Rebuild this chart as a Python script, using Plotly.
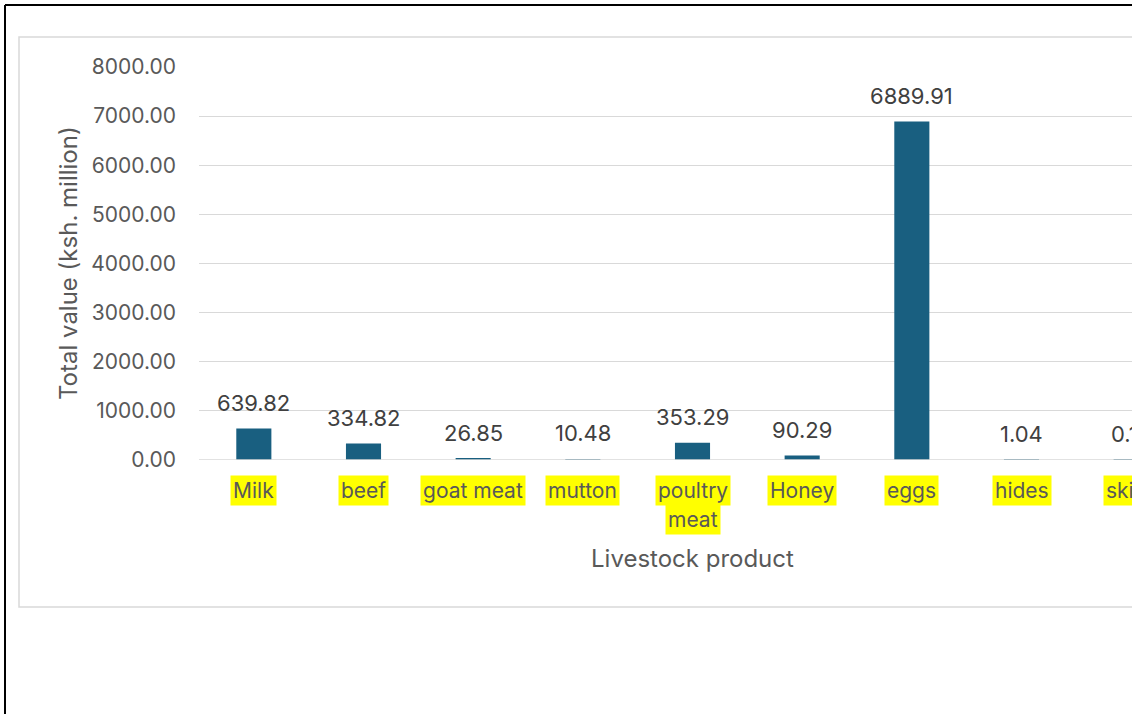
import plotly.graph_objects as go

# Livestock product values (ksh. million)
products = ["Milk", "beef", "goat meat", "mutton", "poultry meat", "Honey", "eggs", "hides", "skins"]
label_lines = [["Milk"], ["beef"], ["goat meat"], ["mutton"], ["poultry", "meat"], ["Honey"], ["eggs"], ["hides"], ["skins"]]
values = [639.82, 334.82, 26.85, 10.48, 353.29, 90.29, 6889.91, 1.04, 0.12]
y_ticks = [0, 1000, 2000, 3000, 4000, 5000, 6000, 7000, 8000]

FONT = "Inter"
BAR = "#195f80"
GRID = "#d9d9d9"
TXT = "#595959"

W, H = 1250, 714
L, R, T, B = 199, W - 1186, 67, H - 460
PW, PH = W - L - R, H - T - B


def px(x):
    return (x - L) / PW


def py(y):
    return (H - B - y) / PH


fig = go.Figure(
    go.Bar(
        x=products,
        y=values,
        marker=dict(color=BAR, line=dict(width=0)),
        hoverinfo="x+y",
    )
)

annotations = []
# value labels above each bar
for p, v in zip(products, values):
    annotations.append(dict(
        x=p, y=v, xref="x", yref="y", text=f"{v:.2f}", showarrow=False,
        yanchor="middle", yshift=26, font=dict(family=FONT, size=22, color="#404040"),
    ))
# highlighted category labels
for p, lines in zip(products, label_lines):
    for i, line in enumerate(lines):
        annotations.append(dict(
            x=p, y=0, xref="x", yref="paper", text=line, showarrow=False,
            yanchor="middle", yshift=-30 - 29 * i, bgcolor="#ffff00", borderpad=2,
            font=dict(family=FONT, size=21, color=TXT),
        ))
# axis titles
annotations.append(dict(
    x=0.5, y=py(558), xref="paper", yref="paper", text="Livestock product",
    showarrow=False, yanchor="middle", font=dict(family=FONT, size=24, color=TXT),
))
annotations.append(dict(
    x=px(68), y=py(263), xref="paper", yref="paper", text="Total value (ksh. million)",
    showarrow=False, textangle=-90, xanchor="center", yanchor="middle",
    font=dict(family=FONT, size=24, color=TXT),
))

shapes = [
    # chart area frame
    dict(type="rect", xref="paper", yref="paper", x0=px(19), x1=px(W + 20), y0=py(607), y1=py(37),
         line=dict(color=GRID, width=1.5), layer="below"),
    # baseline drawn over the bars
    dict(type="line", xref="paper", yref="y", x0=0, x1=1, y0=0, y1=0,
         line=dict(color=GRID, width=1.6), layer="above"),
    # outer black frame
    dict(type="line", xref="paper", yref="paper", x0=px(5), x1=px(W + 20), y0=py(5), y1=py(5),
         line=dict(color="black", width=2)),
    dict(type="line", xref="paper", yref="paper", x0=px(5), x1=px(5), y0=py(5), y1=py(H + 20),
         line=dict(color="black", width=2)),
]

fig.update_layout(
    width=W, height=H,
    margin=dict(l=L, r=R, t=T, b=B, autoexpand=False),
    paper_bgcolor="white", plot_bgcolor="white",
    bargap=0.68, showlegend=False,
    font=dict(family=FONT, size=21, color=TXT),
    annotations=annotations, shapes=shapes,
    xaxis=dict(showticklabels=False, showgrid=False, zeroline=False, showline=False, ticks=""),
    yaxis=dict(
        range=[0, 8000], tickvals=y_ticks, ticktext=[f"{t:.2f}" for t in y_ticks],
        showgrid=True, gridcolor=GRID, gridwidth=1.3, zeroline=False, showline=False,
        ticks="", ticklabelstandoff=22,
        tickfont=dict(family=FONT, size=21, color=TXT),
    ),
)

fig.write_html("out.html")
